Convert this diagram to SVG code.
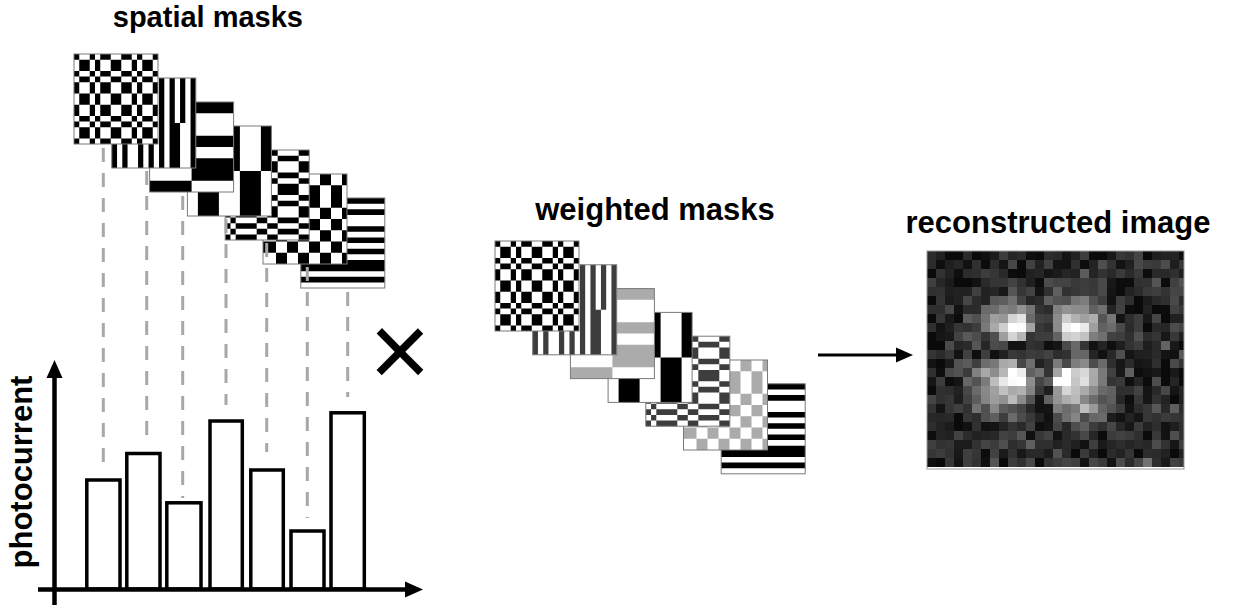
<svg xmlns="http://www.w3.org/2000/svg" width="1242" height="611" viewBox="0 0 1242 611">
<style>
.lbl{font-family:"Liberation Sans",Arial,sans-serif;font-weight:bold;font-size:31px;fill:#000}
.k{fill:#000}.dg{fill:#3d3d3d}.lg{fill:#ababab}
.dash{stroke:#a8a8a8;stroke-width:3;stroke-dasharray:14 11;fill:none}
.bar{fill:#fff;stroke:#000;stroke-width:3.5}
.axis{stroke:#000;stroke-width:4.5;fill:none}
.bd{fill:none;stroke:#7a7a7a;stroke-width:1}
</style>
<defs>
<g id="m1"><rect width="84" height="90" fill="#fff"/><path fill-rule="evenodd" d="M0 0H84V90H0Z M0 0h5.25v90h-5.25z M15.75 0h5.25v90h-5.25z M26.25 0h10.5v90h-10.5z M47.25 0h10.5v90h-10.5z M63 0h5.25v90h-5.25z M78.75 0h5.25v90h-5.25z M0 0h84v5.625h-84z M0 16.875h84v5.625h-84z M0 28.125h84v11.25h-84z M0 50.625h84v11.25h-84z M0 67.5h84v5.625h-84z M0 84.375h84v5.625h-84z"/><rect class="bd" width="84" height="90"/></g>
<g id="m2"><rect width="84" height="90" fill="#fff"/><path d="M0 0h5.25v45h-5.25z M15.75 0h5.25v45h-5.25z M26.25 0h5.25v45h-5.25z M36.75 0h5.25v45h-5.25z M47.25 0h5.25v45h-5.25z M57.75 0h5.25v45h-5.25z M68.25 0h5.25v45h-5.25z M78.75 0h5.25v45h-5.25z M0 45h5.25v45h-5.25z M10.5 45h5.25v45h-5.25z M26.25 45h5.25v45h-5.25z M36.75 45h5.25v45h-5.25z M47.25 45h5.25v45h-5.25z M57.75 45h10.5v45h-10.5z M78.75 45h5.25v45h-5.25z"/><rect class="bd" width="84" height="90"/></g>
<g id="m3"><rect width="84" height="90" fill="#fff"/><path fill-rule="evenodd" d="M0 0h42v90h-42z M0 0h84v11.25h-84z M0 33.75h84v11.25h-84z M0 56.25h84v22.5h-84z"/><rect class="bd" width="84" height="90"/></g>
<g id="m4"><rect width="84" height="90" fill="#fff"/><path fill-rule="evenodd" d="M0 0h10.5v90h-10.5z M31.5 0h21v90h-21z M73.5 0h10.5v90h-10.5z M0 45h84v45h-84z"/><rect class="bd" width="84" height="90"/></g>
<g id="m5"><rect width="84" height="90" fill="#fff"/><path fill-rule="evenodd" d="M5.25 0h5.25v90h-5.25z M31.5 0h10.5v90h-10.5z M52.5 0h21v90h-21z M0 0h84v5.625h-84z M0 11.25h84v11.25h-84z M0 28.125h84v5.625h-84z M0 45h84v5.625h-84z M0 56.25h84v11.25h-84z M0 73.125h84v5.625h-84z M0 84.375h84v5.625h-84z"/><rect class="bd" width="84" height="90"/></g>
<g id="m6"><rect width="84" height="90" fill="#fff"/><path fill-rule="evenodd" d="M13 0h11v90h-11z M35 0h11v90h-11z M57 0h11v90h-11z M79 0h5v90h-5z M0 11.25h84v22.5h-84z M0 45h84v11.25h-84z M0 67.5h84v11.25h-84z"/><rect class="bd" width="84" height="90"/></g>
<g id="m7"><rect width="84" height="90" fill="#fff"/><path d="M0 0h84v5.625h-84z M0 11.25h84v5.625h-84z M0 28.125h84v5.625h-84z M0 39.375h84v5.625h-84z M0 50.625h84v5.625h-84z M0 61.875h84v11.25h-84z M0 78.75h84v5.625h-84z"/><rect class="bd" width="84" height="90"/></g>
<radialGradient id="gTL" fx="0.65" fy="0.75"><stop offset="0" stop-color="#ffffff"/><stop offset="0.15" stop-color="#d8d8d8"/><stop offset="0.4" stop-color="#929292"/><stop offset="0.7" stop-color="#505050" stop-opacity="0.8"/><stop offset="1" stop-color="#222" stop-opacity="0"/></radialGradient>
<radialGradient id="gTR" fx="0.34" fy="0.78"><stop offset="0" stop-color="#ffffff"/><stop offset="0.15" stop-color="#d8d8d8"/><stop offset="0.4" stop-color="#929292"/><stop offset="0.7" stop-color="#505050" stop-opacity="0.8"/><stop offset="1" stop-color="#222" stop-opacity="0"/></radialGradient>
<radialGradient id="gBL" fx="0.78" fy="0.18"><stop offset="0" stop-color="#ffffff"/><stop offset="0.15" stop-color="#d8d8d8"/><stop offset="0.4" stop-color="#929292"/><stop offset="0.7" stop-color="#505050" stop-opacity="0.8"/><stop offset="1" stop-color="#222" stop-opacity="0"/></radialGradient>
<radialGradient id="gBR" fx="0.2" fy="0.18"><stop offset="0" stop-color="#ffffff"/><stop offset="0.15" stop-color="#d8d8d8"/><stop offset="0.4" stop-color="#929292"/><stop offset="0.7" stop-color="#505050" stop-opacity="0.8"/><stop offset="1" stop-color="#222" stop-opacity="0"/></radialGradient>
<radialGradient id="gGlow"><stop offset="0" stop-color="#505050" stop-opacity="0.7"/><stop offset="0.6" stop-color="#303030" stop-opacity="0.5"/><stop offset="1" stop-color="#202020" stop-opacity="0"/></radialGradient>
<filter id="pix" filterUnits="userSpaceOnUse" x="0" y="0" width="257" height="218" color-interpolation-filters="sRGB">
<feTurbulence type="fractalNoise" baseFrequency="0.3" numOctaves="2" seed="7" result="n"/>
<feColorMatrix in="n" type="matrix" values="0.8 0 0 0 -0.28  0.8 0 0 0 -0.28  0.8 0 0 0 -0.28  0 0 0 0 1" result="ng"/>
<feComposite in="SourceGraphic" in2="ng" operator="arithmetic" k2="1" k3="1" result="src"/>
<feFlood x="4" y="4" width="1" height="1" flood-color="#fff" result="dot"/>
<feComposite in="dot" in2="dot" width="9" height="9" result="cell"/>
<feTile in="cell" result="grid"/>
<feComposite in="src" in2="grid" operator="in"/>
<feMorphology operator="dilate" radius="4"/>
</filter>
</defs>

<g id="title-spatial"><text class="lbl" x="303" y="26.5" text-anchor="end" style="font-size:29px">spatial masks</text></g>

<g id="spatial-masks">
<use href="#m7" class="k" x="300.8" y="198"/>
<use href="#m6" class="k" x="263" y="174"/>
<use href="#m5" class="k" x="225.2" y="150"/>
<use href="#m4" class="k" x="187.4" y="126"/>
<use href="#m3" class="k" x="149.6" y="102"/>
<use href="#m2" class="k" x="111.8" y="78"/>
<use href="#m1" class="k" x="74" y="54"/>
</g>

<g id="connectors">
<line class="dash" x1="103.3" y1="148" x2="103.3" y2="472"/>
<line class="dash" x1="146.7" y1="171" x2="146.7" y2="439"/>
<line class="dash" x1="182.7" y1="196" x2="182.7" y2="498"/>
<line class="dash" x1="226" y1="219" x2="226" y2="405"/>
<line class="dash" x1="266.7" y1="243" x2="266.7" y2="452"/>
<line class="dash" x1="307.3" y1="267" x2="307.3" y2="518"/>
<line class="dash" x1="347.7" y1="292" x2="347.7" y2="397"/>
<line x1="818" y1="355" x2="898" y2="355" stroke="#000" stroke-width="3"/>
<polygon points="913,355 896,347.5 896,362.5" fill="#000"/>
</g>

<g id="bar-chart">
<rect class="bar" x="86.8" y="480" width="33.2" height="109"/>
<rect class="bar" x="126.8" y="453.5" width="33.2" height="135.5"/>
<rect class="bar" x="166.8" y="502.8" width="34.2" height="86.2"/>
<rect class="bar" x="210" y="421" width="32.3" height="168"/>
<rect class="bar" x="250.8" y="470" width="32.5" height="119"/>
<rect class="bar" x="291" y="531" width="33" height="58"/>
<rect class="bar" x="331" y="412.8" width="33.3" height="176.2"/>
<line class="axis" x1="54.5" y1="374" x2="54.5" y2="605"/>
<polygon points="54.5,360 46.5,378 62.5,378" fill="#000"/>
<line class="axis" x1="38" y1="589.5" x2="408" y2="589.5"/>
<polygon points="423,589.5 405,581.5 405,597.5" fill="#000"/>
<text class="lbl" transform="translate(32,472) rotate(-90)" text-anchor="middle">photocurrent</text>
</g>

<g id="times"><text x="400" y="387" font-family="Liberation Sans, Arial, sans-serif" font-size="105" text-anchor="middle" fill="#000">×</text></g>

<g id="title-weighted"><text class="lbl" x="655" y="220" text-anchor="middle">weighted masks</text></g>

<g id="weighted-masks">
<use href="#m7" class="k" x="721.2" y="383.8"/>
<use href="#m6" class="lg" x="683.5" y="360"/>
<use href="#m5" class="dg" x="645.8" y="336.2"/>
<use href="#m4" class="k" x="608.1" y="312.4"/>
<use href="#m3" class="lg" x="570.4" y="288.6"/>
<use href="#m2" class="dg" x="532.7" y="264.8"/>
<use href="#m1" class="k" x="495" y="241"/>
</g>

<g id="title-reconstructed"><text class="lbl" x="1058" y="233" text-anchor="middle">reconstructed image</text></g>

<g id="reconstructed-image" transform="translate(927,251)">
<g filter="url(#pix)">
<rect width="257" height="218" fill="#0a0a0a"/>
<ellipse cx="118" cy="108" rx="105" ry="92" fill="url(#gGlow)"/>
<ellipse cx="80" cy="66" rx="36" ry="30" fill="url(#gTL)"/>
<ellipse cx="156" cy="67" rx="40" ry="30" fill="url(#gTR)"/>
<ellipse cx="70" cy="142" rx="44" ry="38" fill="url(#gBL)"/>
<ellipse cx="160" cy="148" rx="42" ry="42" fill="url(#gBR)"/>
<rect x="0" y="90" width="257" height="20" fill="#0a0a0a" opacity="0.7"/>
<rect x="109" y="0" width="18" height="218" fill="#0a0a0a" opacity="0.6"/>
</g>
<rect width="257" height="218" fill="none" stroke="#9a9a9a" stroke-width="1"/>
</g>
</svg>
